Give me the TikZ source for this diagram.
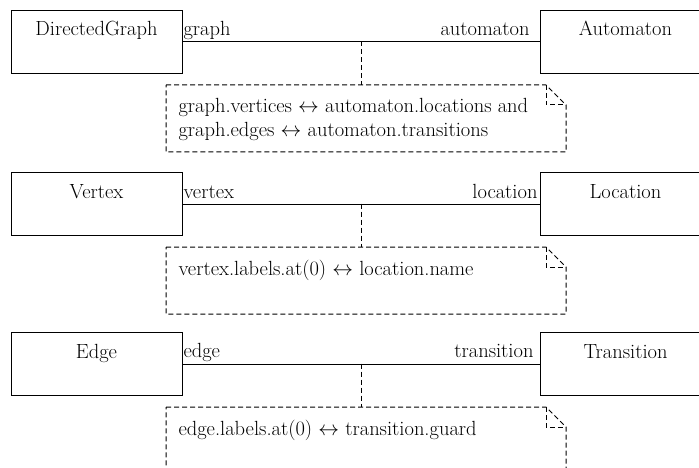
\documentclass[tikz,border=0pt]{standalone}
\begin{document}
\begin{tikzpicture}[x=1pt,y=-1pt,line width=1pt,
  font=\fontsize{20.5}{24.5}\selectfont,
  cls/.style={draw,rectangle,minimum width=171pt,minimum height=63pt,anchor=north west,inner sep=0pt},
  ttl/.style={anchor=base,inner sep=0pt},
  rolel/.style={anchor=base west,inner sep=0pt},
  roler/.style={anchor=base east,inner sep=0pt},
  notetxt/.style={anchor=base west,inner sep=0pt},
  notearea/.style={rectangle,minimum width=399pt,minimum height=66pt,anchor=north west,inner sep=0pt},
  dsh/.style={dash pattern=on 5pt off 3pt,line width=1pt}]
\useasboundingbox (0,0) rectangle (699,468);
\clip (0,0) rectangle (699,468);
% ---------- row 1
\node[cls] (dg) at (11,10) {};
\node[ttl] (dgt) at (96.5,36) {DirectedGraph};
\node[cls] (au) at (540,10) {};
\node[ttl] (aut) at (625.5,36) {Automaton};
\draw (dg.east) -- (au.west);
\node[rolel] (r1a) at (183,36) {graph};
\node[roler] (r1b) at (530,36) {automaton};
\node[notearea] (n1) at (166,85) {};
\draw[dsh] (n1.north west) -- ([xshift=-20pt]n1.north east) -- ([yshift=-20pt]n1.north east) -- (n1.south east) -- (n1.south west) -- cycle;
\draw[dsh] ([xshift=-20pt]n1.north east) -- ([xshift=-20pt,yshift=-20pt]n1.north east) -- ([yshift=-20pt]n1.north east);
\coordinate (m1) at (361,41.5);
\draw[dsh] (m1) -- (m1 |- n1.north);
\node[notetxt] (t1a) at (178,113) {graph.vertices $\leftrightarrow$ automaton.locations and};
\node[notetxt] (t1b) at (178,137) {graph.edges $\leftrightarrow$ automaton.transitions};
% ---------- row 2
\node[cls] (vx) at (11,172) {};
\node[ttl] (vxt) at (96.5,198) {Vertex};
\node[cls] (lc) at (540,172) {};
\node[ttl] (lct) at (625.5,198) {Location};
\draw (vx.east) -- (lc.west);
\node[rolel] (r2a) at (183,198) {vertex};
\node[roler] (r2b) at (538,198) {location};
\node[notearea] (n2) at (166,247) {};
\draw[dsh] (n2.north west) -- ([xshift=-20pt]n2.north east) -- ([yshift=-20pt]n2.north east) -- (n2.south east) -- (n2.south west) -- cycle;
\draw[dsh] ([xshift=-20pt]n2.north east) -- ([xshift=-20pt,yshift=-20pt]n2.north east) -- ([yshift=-20pt]n2.north east);
\coordinate (m2) at (361,203.5);
\draw[dsh] (m2) -- (m2 |- n2.north);
\node[notetxt] (t2a) at (178,275) {vertex.labels.at(0) $\leftrightarrow$ location.name};
% ---------- row 3
\node[cls] (ed) at (11,332) {};
\node[ttl] (edt) at (96.5,358) {Edge};
\node[cls] (tr) at (540,332) {};
\node[ttl] (trt) at (625.5,358) {Transition};
\draw (ed.east) -- (tr.west);
\node[rolel] (r3a) at (183,357) {edge};
\node[roler] (r3b) at (534,357) {transition};
\node[notearea] (n3) at (166,407) {};
\draw[dsh] (n3.north west) -- ([xshift=-20pt]n3.north east) -- ([yshift=-20pt]n3.north east) -- (n3.south east) -- (n3.south west) -- cycle;
\draw[dsh] ([xshift=-20pt]n3.north east) -- ([xshift=-20pt,yshift=-20pt]n3.north east) -- ([yshift=-20pt]n3.north east);
\coordinate (m3) at (361,363.5);
\draw[dsh] (m3) -- (m3 |- n3.north);
\node[notetxt] (t3a) at (178,435) {edge.labels.at(0) $\leftrightarrow$ transition.guard};
\end{tikzpicture}
\end{document}
